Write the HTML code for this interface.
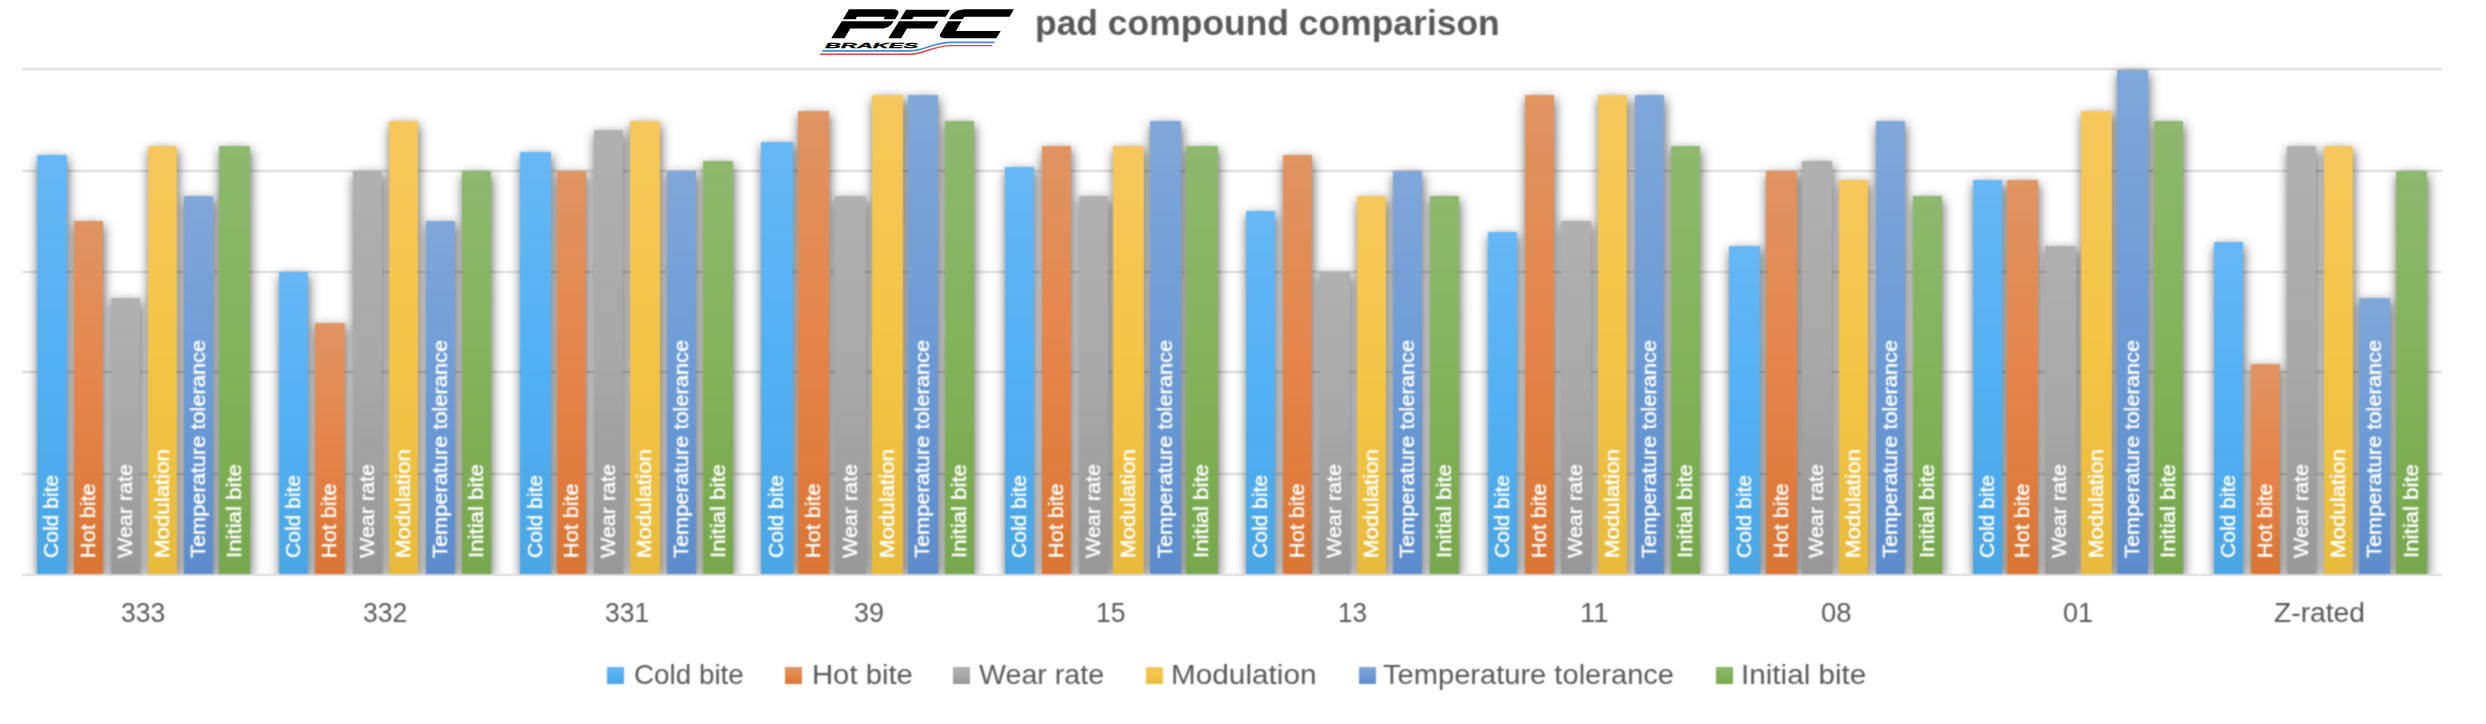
<!DOCTYPE html>
<html><head><meta charset="utf-8"><title>pad compound comparison</title>
<style>
html,body{margin:0;padding:0;background:#fff;}
body{width:2486px;height:724px;position:relative;overflow:hidden;font-family:"Liberation Sans",sans-serif;}
.g{position:absolute;left:22px;width:2419.5px;height:2px;background:#d9d9d9;}
#w{position:absolute;left:0;top:0;width:2486px;height:724px;overflow:hidden;filter:url(#bl);}
#plot{position:absolute;left:0;top:0;width:2486px;height:574px;overflow:hidden;}
.b{position:absolute;}
.sh{position:absolute;background:#999;box-shadow:1px 4px 12px rgba(0,0,0,.63);}
.l{position:absolute;color:#fff;-webkit-text-stroke:.4px #fff;font-size:20px;line-height:20px;white-space:nowrap;transform-origin:0 0;height:20px;}
.c{position:absolute;top:597.6px;font-size:26.8px;line-height:30px;color:#595959;white-space:nowrap;transform-origin:0 0;}
.s{position:absolute;top:666.6px;width:17.2px;height:17.2px;}
.t{position:absolute;top:660.1px;font-size:27.5px;line-height:30px;color:#595959;white-space:nowrap;transform-origin:0 0;}
#title{position:absolute;top:3.2px;font-size:34.8px;line-height:40px;font-weight:bold;color:#595959;white-space:nowrap;transform-origin:0 0;}
</style></head><body>
<svg width="0" height="0" style="position:absolute"><filter id="bl" x="0" y="0" width="100%" height="100%" color-interpolation-filters="sRGB"><feConvolveMatrix order="3" kernelMatrix="1 2 1 2 4 2 1 2 1" divisor="16" edgeMode="duplicate" preserveAlpha="true"/></filter></svg>
<div id="w">
<div style="position:absolute;left:0;top:0;width:2486px;height:724px;background:#fff"></div>

<div class="g" style="top:68.1px"></div>
<div class="g" style="top:170.4px"></div>
<div class="g" style="top:270.6px"></div>
<div class="g" style="top:371.4px"></div>
<div class="g" style="top:473.1px"></div>
<div id="plot">
<div class="sh" style="left:37.30px;top:155.0px;width:29.30px;height:419.0px"></div>
<div class="sh" style="left:278.90px;top:272.4px;width:29.20px;height:301.6px"></div>
<div class="sh" style="left:520.10px;top:151.5px;width:31.20px;height:422.5px"></div>
<div class="sh" style="left:761.30px;top:141.8px;width:31.50px;height:432.2px"></div>
<div class="sh" style="left:1005.10px;top:166.5px;width:29.20px;height:407.5px"></div>
<div class="sh" style="left:1246.30px;top:211.2px;width:29.20px;height:362.8px"></div>
<div class="sh" style="left:1487.90px;top:232.4px;width:29.20px;height:341.6px"></div>
<div class="sh" style="left:1729.10px;top:246.1px;width:31.20px;height:327.9px"></div>
<div class="sh" style="left:1972.60px;top:180.2px;width:29.10px;height:393.8px"></div>
<div class="sh" style="left:2213.90px;top:241.7px;width:29.40px;height:332.3px"></div>
<div class="sh" style="left:74.00px;top:220.7px;width:29.30px;height:353.3px"></div>
<div class="sh" style="left:315.30px;top:322.9px;width:29.40px;height:251.1px"></div>
<div class="sh" style="left:556.80px;top:171.0px;width:29.20px;height:403.0px"></div>
<div class="sh" style="left:798.30px;top:110.8px;width:31.20px;height:463.2px"></div>
<div class="sh" style="left:1041.80px;top:145.5px;width:28.90px;height:428.5px"></div>
<div class="sh" style="left:1283.10px;top:155.0px;width:29.40px;height:419.0px"></div>
<div class="sh" style="left:1524.50px;top:95.4px;width:29.20px;height:478.6px"></div>
<div class="sh" style="left:1765.80px;top:171.0px;width:31.20px;height:403.0px"></div>
<div class="sh" style="left:2007.30px;top:180.2px;width:31.10px;height:393.8px"></div>
<div class="sh" style="left:2250.60px;top:363.7px;width:29.20px;height:210.3px"></div>
<div class="sh" style="left:110.50px;top:297.8px;width:29.70px;height:276.2px"></div>
<div class="sh" style="left:352.50px;top:171.0px;width:29.20px;height:403.0px"></div>
<div class="sh" style="left:593.50px;top:129.8px;width:29.20px;height:444.2px"></div>
<div class="sh" style="left:834.80px;top:195.7px;width:31.20px;height:378.3px"></div>
<div class="sh" style="left:1078.50px;top:195.7px;width:29.70px;height:378.3px"></div>
<div class="sh" style="left:1319.00px;top:272.4px;width:30.70px;height:301.6px"></div>
<div class="sh" style="left:1560.70px;top:220.7px;width:30.00px;height:353.3px"></div>
<div class="sh" style="left:1801.50px;top:161.2px;width:30.20px;height:412.8px"></div>
<div class="sh" style="left:2044.50px;top:246.1px;width:31.00px;height:327.9px"></div>
<div class="sh" style="left:2287.30px;top:145.5px;width:29.20px;height:428.5px"></div>
<div class="sh" style="left:147.50px;top:145.5px;width:29.40px;height:428.5px"></div>
<div class="sh" style="left:388.90px;top:120.6px;width:29.50px;height:453.4px"></div>
<div class="sh" style="left:630.20px;top:120.6px;width:29.50px;height:453.4px"></div>
<div class="sh" style="left:871.50px;top:95.4px;width:31.20px;height:478.6px"></div>
<div class="sh" style="left:1113.00px;top:145.5px;width:31.40px;height:428.5px"></div>
<div class="sh" style="left:1356.50px;top:195.7px;width:29.20px;height:378.3px"></div>
<div class="sh" style="left:1597.90px;top:95.4px;width:29.20px;height:478.6px"></div>
<div class="sh" style="left:1839.20px;top:180.2px;width:29.20px;height:393.8px"></div>
<div class="sh" style="left:2080.70px;top:110.8px;width:31.20px;height:463.2px"></div>
<div class="sh" style="left:2323.90px;top:145.5px;width:29.50px;height:428.5px"></div>
<div class="sh" style="left:184.20px;top:195.7px;width:29.10px;height:378.3px"></div>
<div class="sh" style="left:425.70px;top:220.7px;width:29.40px;height:353.3px"></div>
<div class="sh" style="left:666.90px;top:171.0px;width:29.40px;height:403.0px"></div>
<div class="sh" style="left:908.40px;top:95.4px;width:29.20px;height:478.6px"></div>
<div class="sh" style="left:1149.70px;top:120.6px;width:31.20px;height:453.4px"></div>
<div class="sh" style="left:1393.40px;top:171.0px;width:29.00px;height:403.0px"></div>
<div class="sh" style="left:1634.70px;top:95.4px;width:29.20px;height:478.6px"></div>
<div class="sh" style="left:1876.10px;top:120.6px;width:29.00px;height:453.4px"></div>
<div class="sh" style="left:2117.40px;top:69.7px;width:30.70px;height:504.3px"></div>
<div class="sh" style="left:2358.90px;top:297.8px;width:30.70px;height:276.2px"></div>
<div class="sh" style="left:218.90px;top:145.5px;width:31.40px;height:428.5px"></div>
<div class="sh" style="left:462.10px;top:171.0px;width:29.40px;height:403.0px"></div>
<div class="sh" style="left:703.30px;top:161.2px;width:29.80px;height:412.8px"></div>
<div class="sh" style="left:944.90px;top:120.6px;width:29.40px;height:453.4px"></div>
<div class="sh" style="left:1186.30px;top:145.5px;width:31.30px;height:428.5px"></div>
<div class="sh" style="left:1429.90px;top:195.7px;width:29.40px;height:378.3px"></div>
<div class="sh" style="left:1671.30px;top:145.5px;width:29.20px;height:428.5px"></div>
<div class="sh" style="left:1912.60px;top:195.7px;width:29.20px;height:378.3px"></div>
<div class="sh" style="left:2154.10px;top:120.6px;width:29.10px;height:453.4px"></div>
<div class="sh" style="left:2395.60px;top:171.0px;width:31.20px;height:403.0px"></div>
<div class="b" style="left:37.30px;top:155.0px;width:29.30px;height:419.0px;background:linear-gradient(180deg,#66B7F5,#52B0F4 50%,#4AA5E4)"></div>
<div class="b" style="left:278.90px;top:272.4px;width:29.20px;height:301.6px;background:linear-gradient(180deg,#66B7F5,#52B0F4 50%,#4AA5E4)"></div>
<div class="b" style="left:520.10px;top:151.5px;width:31.20px;height:422.5px;background:linear-gradient(180deg,#66B7F5,#52B0F4 50%,#4AA5E4)"></div>
<div class="b" style="left:761.30px;top:141.8px;width:31.50px;height:432.2px;background:linear-gradient(180deg,#66B7F5,#52B0F4 50%,#4AA5E4)"></div>
<div class="b" style="left:1005.10px;top:166.5px;width:29.20px;height:407.5px;background:linear-gradient(180deg,#66B7F5,#52B0F4 50%,#4AA5E4)"></div>
<div class="b" style="left:1246.30px;top:211.2px;width:29.20px;height:362.8px;background:linear-gradient(180deg,#66B7F5,#52B0F4 50%,#4AA5E4)"></div>
<div class="b" style="left:1487.90px;top:232.4px;width:29.20px;height:341.6px;background:linear-gradient(180deg,#66B7F5,#52B0F4 50%,#4AA5E4)"></div>
<div class="b" style="left:1729.10px;top:246.1px;width:31.20px;height:327.9px;background:linear-gradient(180deg,#66B7F5,#52B0F4 50%,#4AA5E4)"></div>
<div class="b" style="left:1972.60px;top:180.2px;width:29.10px;height:393.8px;background:linear-gradient(180deg,#66B7F5,#52B0F4 50%,#4AA5E4)"></div>
<div class="b" style="left:2213.90px;top:241.7px;width:29.40px;height:332.3px;background:linear-gradient(180deg,#66B7F5,#52B0F4 50%,#4AA5E4)"></div>
<div class="b" style="left:74.00px;top:220.7px;width:29.30px;height:353.3px;background:linear-gradient(180deg,#E09462,#E5844A 50%,#DA7533)"></div>
<div class="b" style="left:315.30px;top:322.9px;width:29.40px;height:251.1px;background:linear-gradient(180deg,#E09462,#E5844A 50%,#DA7533)"></div>
<div class="b" style="left:556.80px;top:171.0px;width:29.20px;height:403.0px;background:linear-gradient(180deg,#E09462,#E5844A 50%,#DA7533)"></div>
<div class="b" style="left:798.30px;top:110.8px;width:31.20px;height:463.2px;background:linear-gradient(180deg,#E09462,#E5844A 50%,#DA7533)"></div>
<div class="b" style="left:1041.80px;top:145.5px;width:28.90px;height:428.5px;background:linear-gradient(180deg,#E09462,#E5844A 50%,#DA7533)"></div>
<div class="b" style="left:1283.10px;top:155.0px;width:29.40px;height:419.0px;background:linear-gradient(180deg,#E09462,#E5844A 50%,#DA7533)"></div>
<div class="b" style="left:1524.50px;top:95.4px;width:29.20px;height:478.6px;background:linear-gradient(180deg,#E09462,#E5844A 50%,#DA7533)"></div>
<div class="b" style="left:1765.80px;top:171.0px;width:31.20px;height:403.0px;background:linear-gradient(180deg,#E09462,#E5844A 50%,#DA7533)"></div>
<div class="b" style="left:2007.30px;top:180.2px;width:31.10px;height:393.8px;background:linear-gradient(180deg,#E09462,#E5844A 50%,#DA7533)"></div>
<div class="b" style="left:2250.60px;top:363.7px;width:29.20px;height:210.3px;background:linear-gradient(180deg,#E09462,#E5844A 50%,#DA7533)"></div>
<div class="b" style="left:110.50px;top:297.8px;width:29.70px;height:276.2px;background:linear-gradient(180deg,#B0B0B0,#A8A8A8 50%,#979797)"></div>
<div class="b" style="left:352.50px;top:171.0px;width:29.20px;height:403.0px;background:linear-gradient(180deg,#B0B0B0,#A8A8A8 50%,#979797)"></div>
<div class="b" style="left:593.50px;top:129.8px;width:29.20px;height:444.2px;background:linear-gradient(180deg,#B0B0B0,#A8A8A8 50%,#979797)"></div>
<div class="b" style="left:834.80px;top:195.7px;width:31.20px;height:378.3px;background:linear-gradient(180deg,#B0B0B0,#A8A8A8 50%,#979797)"></div>
<div class="b" style="left:1078.50px;top:195.7px;width:29.70px;height:378.3px;background:linear-gradient(180deg,#B0B0B0,#A8A8A8 50%,#979797)"></div>
<div class="b" style="left:1319.00px;top:272.4px;width:30.70px;height:301.6px;background:linear-gradient(180deg,#B0B0B0,#A8A8A8 50%,#979797)"></div>
<div class="b" style="left:1560.70px;top:220.7px;width:30.00px;height:353.3px;background:linear-gradient(180deg,#B0B0B0,#A8A8A8 50%,#979797)"></div>
<div class="b" style="left:1801.50px;top:161.2px;width:30.20px;height:412.8px;background:linear-gradient(180deg,#B0B0B0,#A8A8A8 50%,#979797)"></div>
<div class="b" style="left:2044.50px;top:246.1px;width:31.00px;height:327.9px;background:linear-gradient(180deg,#B0B0B0,#A8A8A8 50%,#979797)"></div>
<div class="b" style="left:2287.30px;top:145.5px;width:29.20px;height:428.5px;background:linear-gradient(180deg,#B0B0B0,#A8A8A8 50%,#979797)"></div>
<div class="b" style="left:147.50px;top:145.5px;width:29.40px;height:428.5px;background:linear-gradient(180deg,#F5C75C,#F4C545 50%,#E8BA3C)"></div>
<div class="b" style="left:388.90px;top:120.6px;width:29.50px;height:453.4px;background:linear-gradient(180deg,#F5C75C,#F4C545 50%,#E8BA3C)"></div>
<div class="b" style="left:630.20px;top:120.6px;width:29.50px;height:453.4px;background:linear-gradient(180deg,#F5C75C,#F4C545 50%,#E8BA3C)"></div>
<div class="b" style="left:871.50px;top:95.4px;width:31.20px;height:478.6px;background:linear-gradient(180deg,#F5C75C,#F4C545 50%,#E8BA3C)"></div>
<div class="b" style="left:1113.00px;top:145.5px;width:31.40px;height:428.5px;background:linear-gradient(180deg,#F5C75C,#F4C545 50%,#E8BA3C)"></div>
<div class="b" style="left:1356.50px;top:195.7px;width:29.20px;height:378.3px;background:linear-gradient(180deg,#F5C75C,#F4C545 50%,#E8BA3C)"></div>
<div class="b" style="left:1597.90px;top:95.4px;width:29.20px;height:478.6px;background:linear-gradient(180deg,#F5C75C,#F4C545 50%,#E8BA3C)"></div>
<div class="b" style="left:1839.20px;top:180.2px;width:29.20px;height:393.8px;background:linear-gradient(180deg,#F5C75C,#F4C545 50%,#E8BA3C)"></div>
<div class="b" style="left:2080.70px;top:110.8px;width:31.20px;height:463.2px;background:linear-gradient(180deg,#F5C75C,#F4C545 50%,#E8BA3C)"></div>
<div class="b" style="left:2323.90px;top:145.5px;width:29.50px;height:428.5px;background:linear-gradient(180deg,#F5C75C,#F4C545 50%,#E8BA3C)"></div>
<div class="b" style="left:184.20px;top:195.7px;width:29.10px;height:378.3px;background:linear-gradient(180deg,#7FA7D9,#6C9BD6 50%,#5C8CCB)"></div>
<div class="b" style="left:425.70px;top:220.7px;width:29.40px;height:353.3px;background:linear-gradient(180deg,#7FA7D9,#6C9BD6 50%,#5C8CCB)"></div>
<div class="b" style="left:666.90px;top:171.0px;width:29.40px;height:403.0px;background:linear-gradient(180deg,#7FA7D9,#6C9BD6 50%,#5C8CCB)"></div>
<div class="b" style="left:908.40px;top:95.4px;width:29.20px;height:478.6px;background:linear-gradient(180deg,#7FA7D9,#6C9BD6 50%,#5C8CCB)"></div>
<div class="b" style="left:1149.70px;top:120.6px;width:31.20px;height:453.4px;background:linear-gradient(180deg,#7FA7D9,#6C9BD6 50%,#5C8CCB)"></div>
<div class="b" style="left:1393.40px;top:171.0px;width:29.00px;height:403.0px;background:linear-gradient(180deg,#7FA7D9,#6C9BD6 50%,#5C8CCB)"></div>
<div class="b" style="left:1634.70px;top:95.4px;width:29.20px;height:478.6px;background:linear-gradient(180deg,#7FA7D9,#6C9BD6 50%,#5C8CCB)"></div>
<div class="b" style="left:1876.10px;top:120.6px;width:29.00px;height:453.4px;background:linear-gradient(180deg,#7FA7D9,#6C9BD6 50%,#5C8CCB)"></div>
<div class="b" style="left:2117.40px;top:69.7px;width:30.70px;height:504.3px;background:linear-gradient(180deg,#7FA7D9,#6C9BD6 50%,#5C8CCB)"></div>
<div class="b" style="left:2358.90px;top:297.8px;width:30.70px;height:276.2px;background:linear-gradient(180deg,#7FA7D9,#6C9BD6 50%,#5C8CCB)"></div>
<div class="b" style="left:218.90px;top:145.5px;width:31.40px;height:428.5px;background:linear-gradient(180deg,#8EB86D,#82B35A 50%,#76A74C)"></div>
<div class="b" style="left:462.10px;top:171.0px;width:29.40px;height:403.0px;background:linear-gradient(180deg,#8EB86D,#82B35A 50%,#76A74C)"></div>
<div class="b" style="left:703.30px;top:161.2px;width:29.80px;height:412.8px;background:linear-gradient(180deg,#8EB86D,#82B35A 50%,#76A74C)"></div>
<div class="b" style="left:944.90px;top:120.6px;width:29.40px;height:453.4px;background:linear-gradient(180deg,#8EB86D,#82B35A 50%,#76A74C)"></div>
<div class="b" style="left:1186.30px;top:145.5px;width:31.30px;height:428.5px;background:linear-gradient(180deg,#8EB86D,#82B35A 50%,#76A74C)"></div>
<div class="b" style="left:1429.90px;top:195.7px;width:29.40px;height:378.3px;background:linear-gradient(180deg,#8EB86D,#82B35A 50%,#76A74C)"></div>
<div class="b" style="left:1671.30px;top:145.5px;width:29.20px;height:428.5px;background:linear-gradient(180deg,#8EB86D,#82B35A 50%,#76A74C)"></div>
<div class="b" style="left:1912.60px;top:195.7px;width:29.20px;height:378.3px;background:linear-gradient(180deg,#8EB86D,#82B35A 50%,#76A74C)"></div>
<div class="b" style="left:2154.10px;top:120.6px;width:29.10px;height:453.4px;background:linear-gradient(180deg,#8EB86D,#82B35A 50%,#76A74C)"></div>
<div class="b" style="left:2395.60px;top:171.0px;width:31.20px;height:403.0px;background:linear-gradient(180deg,#8EB86D,#82B35A 50%,#76A74C)"></div>
<div class="l" style="left:41.35px;top:557.70px;transform:rotate(-90deg) scaleX(1.0514)">Cold bite</div>
<div class="l" style="left:282.90px;top:557.70px;transform:rotate(-90deg) scaleX(1.0514)">Cold bite</div>
<div class="l" style="left:525.10px;top:557.70px;transform:rotate(-90deg) scaleX(1.0514)">Cold bite</div>
<div class="l" style="left:766.45px;top:557.70px;transform:rotate(-90deg) scaleX(1.0514)">Cold bite</div>
<div class="l" style="left:1009.10px;top:557.70px;transform:rotate(-90deg) scaleX(1.0514)">Cold bite</div>
<div class="l" style="left:1250.30px;top:557.70px;transform:rotate(-90deg) scaleX(1.0514)">Cold bite</div>
<div class="l" style="left:1491.90px;top:557.70px;transform:rotate(-90deg) scaleX(1.0514)">Cold bite</div>
<div class="l" style="left:1734.10px;top:557.70px;transform:rotate(-90deg) scaleX(1.0514)">Cold bite</div>
<div class="l" style="left:1976.55px;top:557.70px;transform:rotate(-90deg) scaleX(1.0514)">Cold bite</div>
<div class="l" style="left:2218.00px;top:557.70px;transform:rotate(-90deg) scaleX(1.0514)">Cold bite</div>
<div class="l" style="left:78.05px;top:557.70px;transform:rotate(-90deg) scaleX(1.0824)">Hot bite</div>
<div class="l" style="left:319.40px;top:557.70px;transform:rotate(-90deg) scaleX(1.0824)">Hot bite</div>
<div class="l" style="left:560.80px;top:557.70px;transform:rotate(-90deg) scaleX(1.0824)">Hot bite</div>
<div class="l" style="left:803.30px;top:557.70px;transform:rotate(-90deg) scaleX(1.0824)">Hot bite</div>
<div class="l" style="left:1045.65px;top:557.70px;transform:rotate(-90deg) scaleX(1.0824)">Hot bite</div>
<div class="l" style="left:1287.20px;top:557.70px;transform:rotate(-90deg) scaleX(1.0824)">Hot bite</div>
<div class="l" style="left:1528.50px;top:557.70px;transform:rotate(-90deg) scaleX(1.0824)">Hot bite</div>
<div class="l" style="left:1770.80px;top:557.70px;transform:rotate(-90deg) scaleX(1.0824)">Hot bite</div>
<div class="l" style="left:2012.25px;top:557.70px;transform:rotate(-90deg) scaleX(1.0824)">Hot bite</div>
<div class="l" style="left:2254.60px;top:557.70px;transform:rotate(-90deg) scaleX(1.0824)">Hot bite</div>
<div class="l" style="left:114.75px;top:557.70px;transform:rotate(-90deg) scaleX(1.0750)">Wear rate</div>
<div class="l" style="left:356.50px;top:557.70px;transform:rotate(-90deg) scaleX(1.0750)">Wear rate</div>
<div class="l" style="left:597.50px;top:557.70px;transform:rotate(-90deg) scaleX(1.0750)">Wear rate</div>
<div class="l" style="left:839.80px;top:557.70px;transform:rotate(-90deg) scaleX(1.0750)">Wear rate</div>
<div class="l" style="left:1082.75px;top:557.70px;transform:rotate(-90deg) scaleX(1.0750)">Wear rate</div>
<div class="l" style="left:1323.75px;top:557.70px;transform:rotate(-90deg) scaleX(1.0750)">Wear rate</div>
<div class="l" style="left:1565.10px;top:557.70px;transform:rotate(-90deg) scaleX(1.0750)">Wear rate</div>
<div class="l" style="left:1806.00px;top:557.70px;transform:rotate(-90deg) scaleX(1.0750)">Wear rate</div>
<div class="l" style="left:2049.40px;top:557.70px;transform:rotate(-90deg) scaleX(1.0750)">Wear rate</div>
<div class="l" style="left:2291.30px;top:557.70px;transform:rotate(-90deg) scaleX(1.0750)">Wear rate</div>
<div class="l" style="left:151.60px;top:557.70px;transform:rotate(-90deg) scaleX(1.1141)">Modulation</div>
<div class="l" style="left:393.05px;top:557.70px;transform:rotate(-90deg) scaleX(1.1141)">Modulation</div>
<div class="l" style="left:634.35px;top:557.70px;transform:rotate(-90deg) scaleX(1.1141)">Modulation</div>
<div class="l" style="left:876.50px;top:557.70px;transform:rotate(-90deg) scaleX(1.1141)">Modulation</div>
<div class="l" style="left:1118.10px;top:557.70px;transform:rotate(-90deg) scaleX(1.1141)">Modulation</div>
<div class="l" style="left:1360.50px;top:557.70px;transform:rotate(-90deg) scaleX(1.1141)">Modulation</div>
<div class="l" style="left:1601.90px;top:557.70px;transform:rotate(-90deg) scaleX(1.1141)">Modulation</div>
<div class="l" style="left:1843.20px;top:557.70px;transform:rotate(-90deg) scaleX(1.1141)">Modulation</div>
<div class="l" style="left:2085.70px;top:557.70px;transform:rotate(-90deg) scaleX(1.1141)">Modulation</div>
<div class="l" style="left:2328.05px;top:557.70px;transform:rotate(-90deg) scaleX(1.1141)">Modulation</div>
<div class="l" style="left:188.15px;top:557.70px;transform:rotate(-90deg) scaleX(1.0895)">Temperature tolerance</div>
<div class="l" style="left:429.80px;top:557.70px;transform:rotate(-90deg) scaleX(1.0895)">Temperature tolerance</div>
<div class="l" style="left:671.00px;top:557.70px;transform:rotate(-90deg) scaleX(1.0895)">Temperature tolerance</div>
<div class="l" style="left:912.40px;top:557.70px;transform:rotate(-90deg) scaleX(1.0895)">Temperature tolerance</div>
<div class="l" style="left:1154.70px;top:557.70px;transform:rotate(-90deg) scaleX(1.0895)">Temperature tolerance</div>
<div class="l" style="left:1397.30px;top:557.70px;transform:rotate(-90deg) scaleX(1.0895)">Temperature tolerance</div>
<div class="l" style="left:1638.70px;top:557.70px;transform:rotate(-90deg) scaleX(1.0895)">Temperature tolerance</div>
<div class="l" style="left:1880.00px;top:557.70px;transform:rotate(-90deg) scaleX(1.0895)">Temperature tolerance</div>
<div class="l" style="left:2122.15px;top:557.70px;transform:rotate(-90deg) scaleX(1.0895)">Temperature tolerance</div>
<div class="l" style="left:2363.65px;top:557.70px;transform:rotate(-90deg) scaleX(1.0895)">Temperature tolerance</div>
<div class="l" style="left:224.00px;top:557.70px;transform:rotate(-90deg) scaleX(1.1124)">Initial bite</div>
<div class="l" style="left:466.20px;top:557.70px;transform:rotate(-90deg) scaleX(1.1124)">Initial bite</div>
<div class="l" style="left:707.60px;top:557.70px;transform:rotate(-90deg) scaleX(1.1124)">Initial bite</div>
<div class="l" style="left:949.00px;top:557.70px;transform:rotate(-90deg) scaleX(1.1124)">Initial bite</div>
<div class="l" style="left:1191.35px;top:557.70px;transform:rotate(-90deg) scaleX(1.1124)">Initial bite</div>
<div class="l" style="left:1434.00px;top:557.70px;transform:rotate(-90deg) scaleX(1.1124)">Initial bite</div>
<div class="l" style="left:1675.30px;top:557.70px;transform:rotate(-90deg) scaleX(1.1124)">Initial bite</div>
<div class="l" style="left:1916.60px;top:557.70px;transform:rotate(-90deg) scaleX(1.1124)">Initial bite</div>
<div class="l" style="left:2158.05px;top:557.70px;transform:rotate(-90deg) scaleX(1.1124)">Initial bite</div>
<div class="l" style="left:2400.60px;top:557.70px;transform:rotate(-90deg) scaleX(1.1124)">Initial bite</div>
</div>
<div class="g" style="top:573.8px"></div>
<div class="c" style="left:120.90px;transform:scaleX(0.9888)">333</div>
<div class="c" style="left:362.90px;transform:scaleX(0.9888)">332</div>
<div class="c" style="left:604.90px;transform:scaleX(0.9888)">331</div>
<div class="c" style="left:854.00px;transform:scaleX(1.0067)">39</div>
<div class="c" style="left:1095.75px;transform:scaleX(0.9899)">15</div>
<div class="c" style="left:1338.00px;transform:scaleX(0.9731)">13</div>
<div class="c" style="left:1579.65px;transform:scaleX(1.0317)">11</div>
<div class="c" style="left:1820.50px;transform:scaleX(1.0268)">08</div>
<div class="c" style="left:2063.00px;transform:scaleX(1.0067)">01</div>
<div class="c" style="left:2273.80px;transform:scaleX(1.0535)">Z-rated</div>
<div class="s" style="left:607.3px;background:linear-gradient(180deg,#66B7F5,#52B0F4 50%,#4AA5E4)"></div>
<div class="t" style="left:633.50px;transform:scaleX(1.0116)">Cold bite</div>
<div class="s" style="left:785.0px;background:linear-gradient(180deg,#E09462,#E5844A 50%,#DA7533)"></div>
<div class="t" style="left:811.50px;transform:scaleX(1.0637)">Hot bite</div>
<div class="s" style="left:953.1px;background:linear-gradient(180deg,#B0B0B0,#A8A8A8 50%,#979797)"></div>
<div class="t" style="left:979.30px;transform:scaleX(1.0405)">Wear rate</div>
<div class="s" style="left:1146.0px;background:linear-gradient(180deg,#F5C75C,#F4C545 50%,#E8BA3C)"></div>
<div class="t" style="left:1171.40px;transform:scaleX(1.0815)">Modulation</div>
<div class="s" style="left:1358.5px;background:linear-gradient(180deg,#7FA7D9,#6C9BD6 50%,#5C8CCB)"></div>
<div class="t" style="left:1383.00px;transform:scaleX(1.0577)">Temperature tolerance</div>
<div class="s" style="left:1715.9px;background:linear-gradient(180deg,#8EB86D,#82B35A 50%,#76A74C)"></div>
<div class="t" style="left:1741.30px;transform:scaleX(1.0784)">Initial bite</div>
<div id="title" style="left:1034.60px;transform:scaleX(1.0186)">pad compound comparison</div>
</div>
<svg style="position:absolute;left:810px;top:0" width="220" height="64" viewBox="0 0 2486 723">
<g fill="#000">
<path d="M440,105 H930 C990,105 1012,128 995,160 L962,218 H830 L846,190 H530 L515,218 H372 Z"/>
<path d="M358,240 H945 C920,290 870,322 800,322 H455 L390,432 H240 Z"/>
<path d="M1085,110 H1580 L1535,190 H1170 L1155,218 H1020 Z"/>
<path d="M1006,240 H1450 L1400,322 H1095 L1030,432 H885 Z"/>
<path d="M1570,218 C1595,150 1660,105 1760,105 H2305 L2255,190 H1745 L1725,218 Z"/>
<path d="M1558,240 H1712 L1650,350 H2155 L2105,432 H1540 C1480,432 1452,412 1475,378 Z"/>
<text x="0" y="0" font-family="Liberation Sans, sans-serif" font-weight="bold" font-style="italic" font-size="90" stroke="#000" stroke-width="3" transform="translate(170,538) scale(2.77,1)">BRAKES</text>
</g>
<path d="M140,575 H1130 C1300,575 1380,478 1600,478 H2085" fill="none" stroke="#4a8ad4" stroke-width="19"/>
<path d="M115,612 H1130 C1300,612 1380,515 1600,515 H2060" fill="none" stroke="#e04444" stroke-width="16"/>
</svg>
</body></html>
